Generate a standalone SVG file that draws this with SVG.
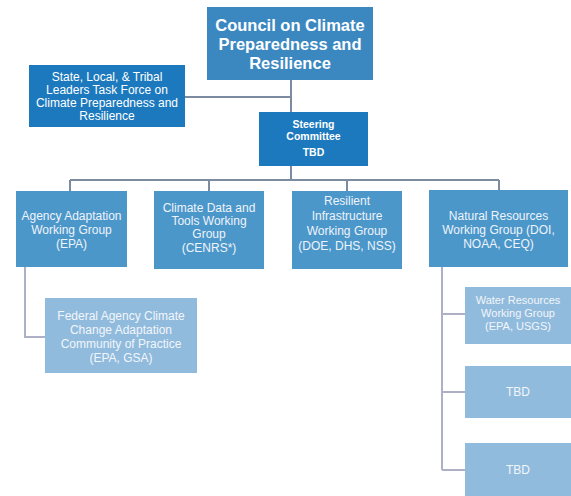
<svg xmlns="http://www.w3.org/2000/svg" width="571" height="496" viewBox="0 0 571 496">
<style>
text{font-family:"Liberation Sans",Arial,sans-serif;fill:#ffffff;text-anchor:middle}
.t1{font-size:16.5px;font-weight:bold}
.t2{font-size:12px}
.t3{font-size:10.5px;font-weight:bold}
.t4{font-size:12px;fill:#eef4fa}
.t5{font-size:12px;fill:#f2f6fb}
.t6{font-size:11px;fill:#f2f6fb}
.b1{fill:#3b88c1}
.b2{fill:#1c79bd}
.b3{fill:#4c97ca}
.b4{fill:#91bbdd}
.c{stroke:#7d8ba1;stroke-width:2;fill:none}
.cl{stroke:#aeb1c6;stroke-width:2;fill:none}
</style>
<rect width="571" height="496" fill="#ffffff"/>
<g id="connectors">
<path class="c" d="M291 80V112M185 97H291M291 166V180M70 180H499M70 180V191M209 180V191M347 180V191M499 180V190"/>
<path class="cl" d="M25 267V337H45"/>
<path class="cl" d="M442 267V470M442 314H465M442 392H465M442 470H465"/>
</g>
<g id="council">
<rect class="b1" x="207" y="7" width="166" height="73"/>
<text class="t1" x="290" y="31">Council on Climate</text>
<text class="t1" x="290" y="50">Preparedness and</text>
<text class="t1" x="290" y="69">Resilience</text>
</g>
<g id="taskforce">
<rect class="b2" x="29" y="65" width="156" height="62"/>
<text class="t2" x="107" y="81">State, Local, &amp; Tribal</text>
<text class="t2" x="107" y="94">Leaders Task Force on</text>
<text class="t2" x="107" y="107">Climate Preparedness and</text>
<text class="t2" x="107" y="120">Resilience</text>
</g>
<g id="steering">
<rect class="b2" x="259" y="112" width="109" height="54"/>
<text class="t3" x="313.5" y="128">Steering</text>
<text class="t3" x="313.5" y="140">Committee</text>
<text class="t3" x="313.5" y="156">TBD</text>
</g>
<g id="agency">
<rect class="b3" x="16" y="191" width="111" height="76"/>
<text class="t4" x="71.5" y="220">Agency Adaptation</text>
<text class="t4" x="71.5" y="234">Working Group</text>
<text class="t4" x="71.5" y="248">(EPA)</text>
</g>
<g id="climatedata">
<rect class="b3" x="154" y="191" width="110" height="78"/>
<text class="t4" x="209" y="212">Climate Data and</text>
<text class="t4" x="209" y="225">Tools Working</text>
<text class="t4" x="209" y="238">Group</text>
<text class="t4" x="209" y="252">(CENRS*)</text>
</g>
<g id="resilient">
<rect class="b3" x="292" y="191" width="110" height="78"/>
<text class="t4" x="347" y="205">Resilient</text>
<text class="t4" x="347" y="220">Infrastructure</text>
<text class="t4" x="347" y="235">Working Group</text>
<text class="t4" x="347" y="250">(DOE, DHS, NSS)</text>
</g>
<g id="natural">
<rect class="b3" x="429" y="190" width="139" height="77"/>
<text class="t4" x="498.5" y="220">Natural Resources</text>
<text class="t4" x="498.5" y="234">Working Group (DOI,</text>
<text class="t4" x="498.5" y="248">NOAA, CEQ)</text>
</g>
<g id="federal">
<rect class="b4" x="45" y="298" width="152" height="75"/>
<text class="t5" x="121" y="320">Federal Agency Climate</text>
<text class="t5" x="121" y="334">Change Adaptation</text>
<text class="t5" x="121" y="348">Community of Practice</text>
<text class="t5" x="121" y="362">(EPA, GSA)</text>
</g>
<g id="water">
<rect class="b4" x="465" y="287" width="106" height="57"/>
<text class="t6" x="518" y="304">Water Resources</text>
<text class="t6" x="518" y="317">Working Group</text>
<text class="t6" x="518" y="330">(EPA, USGS)</text>
</g>
<g id="tbd1">
<rect class="b4" x="465" y="366" width="106" height="52"/>
<text class="t5" x="518" y="396">TBD</text>
</g>
<g id="tbd2">
<rect class="b4" x="465" y="443" width="106" height="53"/>
<text class="t5" x="518" y="474">TBD</text>
</g>
</svg>
